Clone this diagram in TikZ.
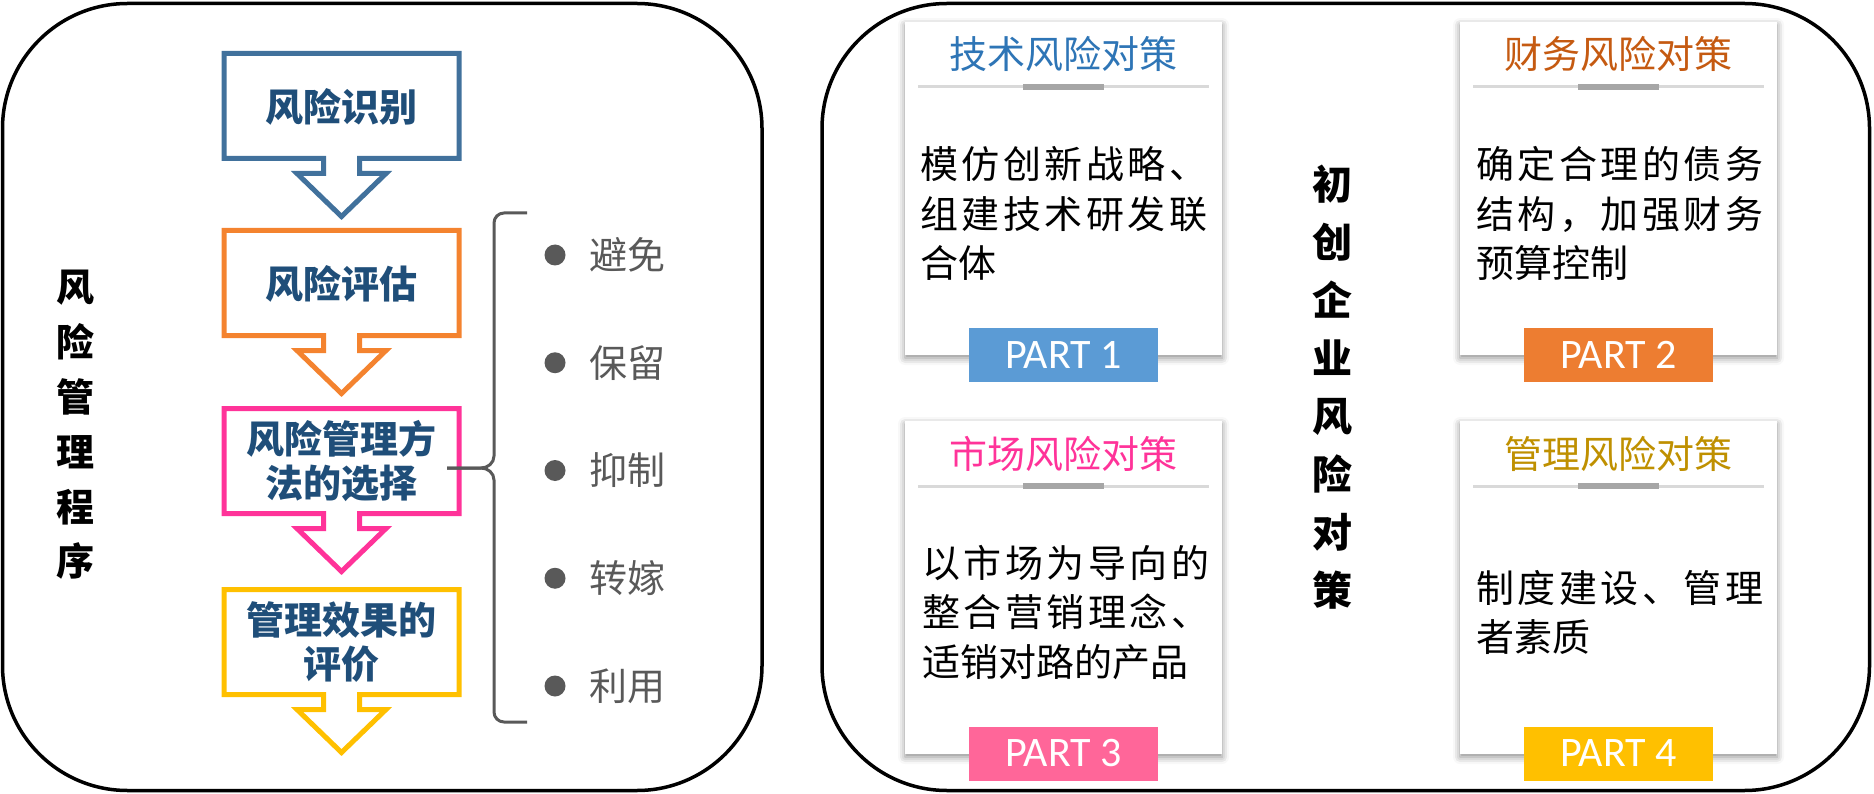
\documentclass[tikz,border=0pt]{standalone}
\usepackage{fontspec}
\setmainfont{Noto Sans CJK SC}
\newfontfamily\partfont{Carlito}
\usetikzlibrary{shadows.blur}
\definecolor{boxtext}{HTML}{1F4E79}
\definecolor{cblue}{HTML}{41719C}
\definecolor{corange}{HTML}{F4832F}
\definecolor{cpink}{HTML}{FF3399}
\definecolor{cyellow}{HTML}{FFC000}
\definecolor{itemgray}{HTML}{595959}
\definecolor{tblue}{HTML}{2E75B6}
\definecolor{torange}{HTML}{C55A11}
\definecolor{tpink}{HTML}{FF3399}
\definecolor{tgold}{HTML}{BF9000}
\definecolor{pone}{HTML}{5B9BD5}
\definecolor{ptwo}{HTML}{ED7D31}
\definecolor{pthree}{HTML}{FF6699}
\definecolor{pfour}{HTML}{FFC000}
\definecolor{seplight}{HTML}{D9D9D9}
\definecolor{sepdark}{HTML}{A6A6A6}
\def\sprdEnd{}
\def\sprd#1{\sprdA#1\sprdEnd}
\def\sprdA#1#2{#1\ifx#2\sprdEnd\else\hfill\expandafter\sprdA\expandafter#2\fi}
\newcommand\jline[1]{\hbox to 287pt{\sprd{#1}}}
\tikzset{
  panel/.style={draw=black, line width=3.5pt, rounded corners=125pt},
  flowarrow/.style={line width=5pt, line join=miter, fill=white},
  boxtxt/.style={text=boxtext, font=\fontsize{38}{44}\selectfont\bfseries, align=center, inner sep=0pt},
  vlabel/.style={text=black, align=center, inner sep=0pt},
  dot/.style={circle, fill=itemgray, minimum size=21pt, inner sep=0pt},
  item/.style={text=itemgray, font=\fontsize{38}{38}\selectfont, inner sep=0pt, anchor=west},
  brace/.style={draw=itemgray, line width=3pt},
  card/.style={fill=white, minimum width=317pt, minimum height=333pt, inner sep=0pt,
    blur shadow={shadow xshift=0pt, shadow yshift=-3pt, shadow blur radius=7pt, shadow opacity=45}},
  ctitle/.style={font=\fontsize{38}{38}\selectfont, inner sep=0pt},
  sepl/.style={draw=seplight, line width=3pt},
  sepd/.style={draw=sepdark, line width=6pt},
  body/.style={text=black, font=\fontsize{38}{49.5}\selectfont, inner sep=0pt, anchor=west},
  part/.style={minimum width=189pt, minimum height=54pt, inner sep=0pt, text=white,
    font=\partfont\fontsize{42}{42}\selectfont},
}
\newcommand\flowbox[4]{%
  \begin{scope}[shift={(0,#1)}]
    \draw[flowarrow, draw=#2] (224,0) -- (459,0) -- (459,105) -- (359.5,105) -- (359.5,120)
      -- (386,120) -- (341.5,163) -- (297,120) -- (323.5,120) -- (323.5,105) -- (224,105) -- cycle;
    \node[boxtxt] (#3) at (341.5,53) {#4};
  \end{scope}}
\begin{document}
\begin{tikzpicture}[x=1pt, y=-1pt]
\useasboundingbox (0,0) rectangle (1874,794);
% panels
\draw[panel] (2.5,3.5) rectangle (762,790.5);
\draw[panel] (822,3.5) rectangle (1869.5,790.5);
% left vertical label
\node[vlabel, font=\fontsize{38}{54.8}\selectfont\bfseries] (ltitle) at (75,425) {风\\险\\管\\理\\程\\序};
% flow boxes
\flowbox{53.5}{cblue}{b1}{风险识别}
\flowbox{230.5}{corange}{b2}{风险评估}
\flowbox{408.5}{cpink}{b3}{风险管理方\\法的选择}
\flowbox{589.5}{cyellow}{b4}{管理效果的\\评价}
% brace
\coordinate (brtop) at (527,213);
\coordinate (brtip) at (447,468);
\coordinate (brbot) at (527,722);
\draw[brace] (brtop) -- (504,213) to[out=180,in=90] (494,223) -- (494,456)
  to[out=-90,in=0] (481,468) -- (brtip);
\draw[brace] (brtip) -- (481,468) to[out=0,in=90] (494,480) -- (494,712)
  to[out=-90,in=180] (504,722) -- (brbot);
% items
\node[dot] (d1) at (555,255) {};
\node[item] (i1) at (589,255) {避免};
\node[dot] (d2) at (555,362.75) {};
\node[item] (i2) at (589,362.75) {保留};
\node[dot] (d3) at (555,470.5) {};
\node[item] (i3) at (589,470.5) {抑制};
\node[dot] (d4) at (555,578.25) {};
\node[item] (i4) at (589,578.25) {转嫁};
\node[dot] (d5) at (555,686) {};
\node[item] (i5) at (589,686) {利用};
% center title
\node[vlabel, font=\fontsize{40}{58}\selectfont\bfseries] (ctitle) at (1332,387) {初\\创\\企\\业\\风\\险\\对\\策};
% cards
\node[card] (c1) at (1063.5,188.5) {};
\node[card] (c2) at (1618.5,188.5) {};
\node[card] (c3) at (1063.5,587.5) {};
\node[card] (c4) at (1618.5,587.5) {};
% titles
\node[ctitle, text=tblue] (t1) at (1063.5,54) {技术风险对策};
\node[ctitle, text=torange] (t2) at (1618.5,54) {财务风险对策};
\node[ctitle, text=tpink] (t3) at (1063.5,454) {市场风险对策};
\node[ctitle, text=tgold] (t4) at (1618.5,454) {管理风险对策};
% separators
\draw[sepl] (918,87) -- (1209,87);
\draw[sepd] (1023,87) -- (1104,87);
\draw[sepl] (1473,87) -- (1764,87);
\draw[sepd] (1578,87) -- (1659,87);
\draw[sepl] (918,486) -- (1209,486);
\draw[sepd] (1023,486) -- (1104,486);
\draw[sepl] (1473,486) -- (1764,486);
\draw[sepd] (1578,486) -- (1659,486);
% bodies
\node[body] (y1) at (920,213.5) {\vtop{\baselineskip=49.5pt \jline{模仿创新战略、}\jline{组建技术研发联}\hbox{合体}}};
\node[body] (y2) at (1476,213.5) {\vtop{\baselineskip=49.5pt \jline{确定合理的债务}\jline{结构，加强财务}\hbox{预算控制}}};
\node[body] (y3) at (922,612.5) {\vtop{\baselineskip=49.5pt \jline{以市场为导向的}\jline{整合营销理念、}\hbox{适销对路的产品}}};
\node[body] (y4) at (1476,612.5) {\vtop{\baselineskip=49.5pt \jline{制度建设、管理}\hbox{者素质}}};
% part labels
\node[part, fill=pone] (p1) at (1063.5,355) {PART 1};
\node[part, fill=ptwo] (p2) at (1618.5,355) {PART 2};
\node[part, fill=pthree] (p3) at (1063.5,753.5) {PART 3};
\node[part, fill=pfour] (p4) at (1618.5,753.5) {PART 4};
\end{tikzpicture}
\end{document}
